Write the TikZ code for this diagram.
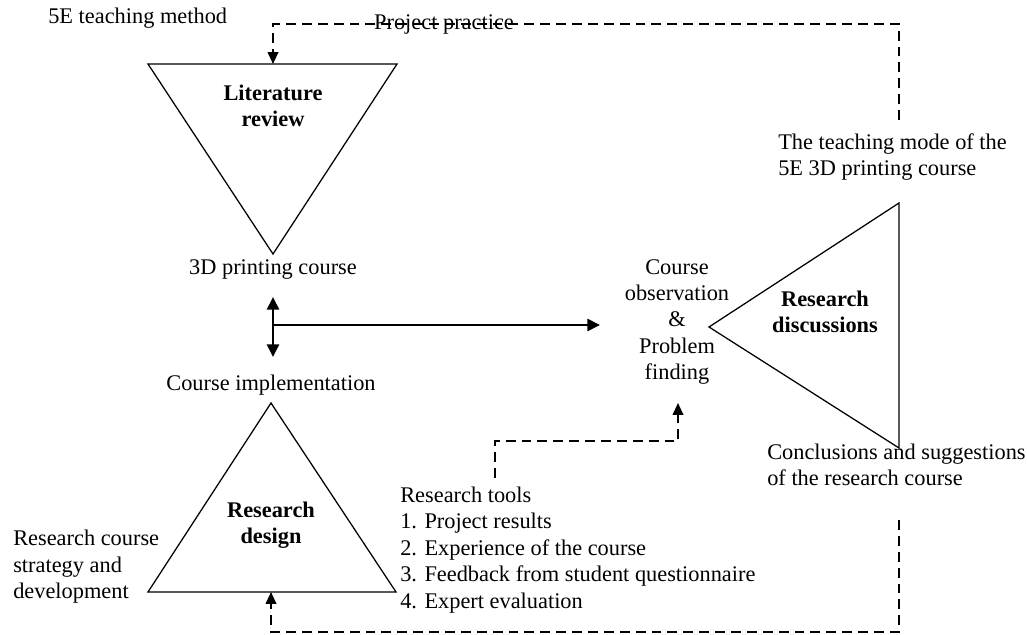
\documentclass[tikz,border=0pt]{standalone}
\usepackage{fontspec}
\setmainfont{Liberation Serif}
\usetikzlibrary{arrows.meta,positioning}

\begin{document}
\begin{tikzpicture}[x=0.025cm,y=-0.025cm]

	\tikzset{
		txt/.style = {font=\fontsize{15.9}{18.8}\selectfont, inner sep=0pt, align=left},
		mid/.style = {txt, align=center},
		bold/.style = {mid, font=\fontsize{15.9}{18.8}\selectfont\bfseries},
		tri/.style = {draw, line width=0.9pt, line join=miter},
		flow/.style = {line width=2pt, -{Triangle[length=9pt,width=8.5pt]}},
		back/.style = {line width=1.5pt, dash pattern=on 7pt off 4.3pt, -{Triangle[length=8.5pt,width=7.5pt]}}
	}

	\useasboundingbox (0,0) rectangle (1027,635);

	% triangles
	\coordinate (litL) at (148,64);
	\coordinate (litR) at (397,64);
	\coordinate (litT) at (273,64);
	\coordinate (litA) at (273,254);
	\draw [tri] (litL) -- (litR) -- (litA) -- cycle;

	\coordinate (desA) at (271,403);
	\coordinate (desL) at (148,592);
	\coordinate (desR) at (396,592);
	\coordinate (desB) at (271,592);
	\draw [tri] (desA) -- (desR) -- (desL) -- cycle;

	\coordinate (disA) at (709,327);
	\coordinate (disT) at (899,203);
	\coordinate (disB) at (899,448);
	\draw [tri] (disA) -- (disT) -- (disB) -- cycle;

	% texts
	\node (litrev) [style=bold] at (273,106) {Literature\\review};
	\node (design) [style=bold] at (271,525) {Research\\design};
	\node (discuss) [style=bold] at (825,312) {Research\\discussions};

	\node (method) [style=txt, anchor=west] at (48,18) {5E teaching method};
	\node (practice) [style=txt] at (444,24) {Project practice};
	\node (printing) [style=mid] at (273,270) {3D printing course};
	\node (implement) [style=mid] at (271,385) {Course implementation};
	\node (strategy) [style=txt, anchor=west] at (13,567) {Research course\\strategy and\\development};
	\node (tools) [style=txt, anchor=west] at (400,550) {Research tools\\1. Project results\\2. Experience of the course\\3. Feedback from student questionnaire\\4. Expert evaluation};
	\node (observe) [style=mid] at (677,322) {Course\\observation\\\&\\Problem\\finding};
	\node (mode) [style=txt, anchor=west] at (778,157) {The teaching mode of the\\5E 3D printing course};
	\node (conclude) [style=txt, anchor=west] at (767,465) {Conclusions and suggestions\\of the research course};

	% arrows
	\coordinate (junc) at (273,325);
	\coordinate (up) at (273,297);
	\coordinate (down) at (273,357);
	\coordinate (obsW) at (600,325);
	\draw [flow, {Triangle[length=9pt,width=8.5pt]}-{Triangle[length=9pt,width=8.5pt]}] (up) -- (down);
	\draw [flow] (junc) -- (obsW);

	\coordinate (toolsN) at (495,478);
	\coordinate (obsS) at (678,403);
	\draw [back] (toolsN) |- (obsS |- 0,441) -- (obsS);

	\coordinate (modeS) at (899,120);
	\draw [back] (modeS) -- (899,24) -| (litT);

	\coordinate (concS) at (899,520);
	\draw [back] (concS) -- (899,632) -| (desB);

\end{tikzpicture}
\end{document}
